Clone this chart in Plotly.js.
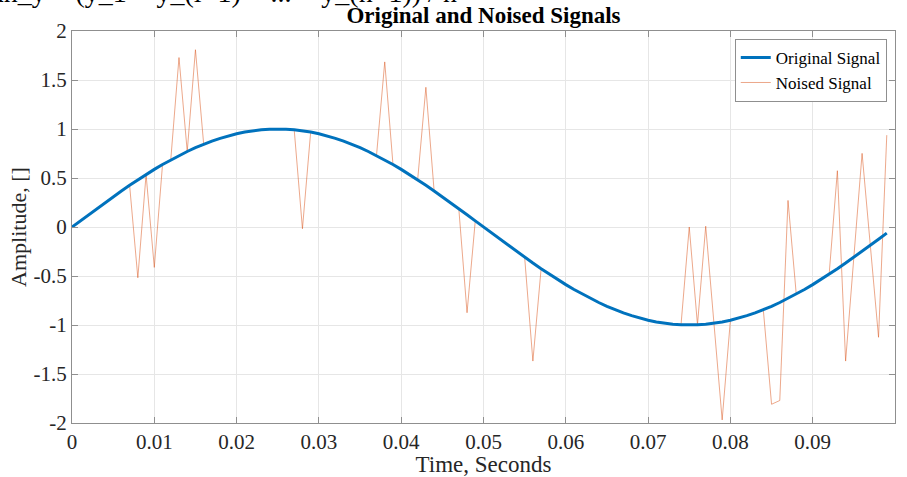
<!DOCTYPE html>
<html><head><meta charset="utf-8">
<script src="https://cdn.plot.ly/plotly-3.0.1.min.js"></script>
<style>html,body{margin:0;padding:0;background:#fff}#chart{width:907px;height:477px}</style>
</head><body><div id="chart"></div>
<script>
const timeSeconds = [
  0.000,0.001,0.002,0.003,0.004,0.005,0.006,0.007,0.008,0.009,
  0.010,0.011,0.012,0.013,0.014,0.015,0.016,0.017,0.018,0.019,
  0.020,0.021,0.022,0.023,0.024,0.025,0.026,0.027,0.028,0.029,
  0.030,0.031,0.032,0.033,0.034,0.035,0.036,0.037,0.038,0.039,
  0.040,0.041,0.042,0.043,0.044,0.045,0.046,0.047,0.048,0.049,
  0.050,0.051,0.052,0.053,0.054,0.055,0.056,0.057,0.058,0.059,
  0.060,0.061,0.062,0.063,0.064,0.065,0.066,0.067,0.068,0.069,
  0.070,0.071,0.072,0.073,0.074,0.075,0.076,0.077,0.078,0.079,
  0.080,0.081,0.082,0.083,0.084,0.085,0.086,0.087,0.088,0.089,
  0.090,0.091,0.092,0.093,0.094,0.095,0.096,0.097,0.098,0.099
];
const originalSignal = [
  0.0000,0.0628,0.1253,0.1874,0.2487,0.3090,0.3681,0.4258,0.4818,0.5358,
  0.5878,0.6374,0.6845,0.7290,0.7705,0.8090,0.8443,0.8763,0.9048,0.9298,
  0.9511,0.9686,0.9823,0.9921,0.9980,1.0000,0.9980,0.9921,0.9823,0.9686,
  0.9511,0.9298,0.9048,0.8763,0.8443,0.8090,0.7705,0.7290,0.6845,0.6374,
  0.5878,0.5358,0.4818,0.4258,0.3681,0.3090,0.2487,0.1874,0.1253,0.0628,
  0.0000,-0.0628,-0.1253,-0.1874,-0.2487,-0.3090,-0.3681,-0.4258,-0.4818,-0.5358,
  -0.5878,-0.6374,-0.6845,-0.7290,-0.7705,-0.8090,-0.8443,-0.8763,-0.9048,-0.9298,
  -0.9511,-0.9686,-0.9823,-0.9921,-0.9980,-1.0000,-0.9980,-0.9921,-0.9823,-0.9686,
  -0.9511,-0.9298,-0.9048,-0.8763,-0.8443,-0.8090,-0.7705,-0.7290,-0.6845,-0.6374,
  -0.5878,-0.5358,-0.4818,-0.4258,-0.3681,-0.3090,-0.2487,-0.1874,-0.1253,-0.0628
];
const noisedSignal = [
  0.0000,0.0628,0.1253,0.1874,0.2487,0.3090,0.3681,0.4258,-0.5182,0.5358,
  -0.4122,0.6374,0.6845,1.7290,0.7705,1.8090,0.8443,0.8763,0.9048,0.9298,
  0.9511,0.9686,0.9823,0.9921,0.9980,1.0000,0.9980,0.9921,-0.0177,0.9686,
  0.9511,0.9298,0.9048,0.8763,0.8443,0.8090,0.7705,0.7290,1.6845,0.6374,
  0.5878,0.5358,0.4818,1.4258,0.3681,0.3090,0.2487,0.1874,-0.8747,0.0628,
  0.0000,-0.0628,-0.1253,-0.1874,-0.2487,-0.3090,-1.3681,-0.4258,-0.4818,-0.5358,
  -0.5878,-0.6374,-0.6845,-0.7290,-0.7705,-0.8090,-0.8443,-0.8763,-0.9048,-0.9298,
  -0.9511,-0.9686,-0.9823,-0.9921,-0.9980,0.0000,-0.9980,0.0079,-0.9823,-1.9686,
  -0.9511,-0.9298,-0.9048,-0.8763,-0.8443,-1.8090,-1.7705,0.2710,-0.6845,-0.6374,
  -0.5878,-0.5358,-0.4818,0.5742,-1.3681,-0.3090,0.7513,-0.1874,-1.1253,0.9372
];
const xTickVals = [0,0.01,0.02,0.03,0.04,0.05,0.06,0.07,0.08,0.09,0.1];
const xTickText = ['0','0.01','0.02','0.03','0.04','0.05','0.06','0.07','0.08','0.09','0.1'];
const yTickVals = [-2,-1.5,-1,-0.5,0,0.5,1,1.5,2];
const yTickText = ['-2','-1.5','-1','-0.5','0','0.5','1','1.5','2'];
const seriesNames = ['Original Signal','Noised Signal'];

const FONT = 'Liberation Serif, Times New Roman, serif';
const axisCommon = {
  showline: true, mirror: 'ticks', linecolor: '#8f8f8f', linewidth: 1,
  ticks: 'inside', ticklen: 6, tickcolor: '#8f8f8f', tickwidth: 1,
  showgrid: true, gridcolor: '#e6e6e6', gridwidth: 1, zeroline: false,
  tickfont: {family: FONT, size: 21, color: '#262626'}
};

const data = [
  {x: timeSeconds, y: noisedSignal, type: 'scatter', mode: 'lines', name: seriesNames[1],
   legendrank: 2, line: {color: '#D95319', width: 0.6}, opacity: 0.85},
  {x: timeSeconds, y: originalSignal, type: 'scatter', mode: 'lines', name: seriesNames[0],
   legendrank: 1, line: {color: '#0072BD', width: 3}}
];

const layout = {
  width: 907, height: 477,
  margin: {l: 72, r: 12, t: 31, b: 54},
  paper_bgcolor: '#fff', plot_bgcolor: '#fff',
  font: {family: FONT, color: '#262626'},
  title: {text: '<b>Original and Noised Signals</b>', font: {family: FONT, size: 23, color: '#000'},
          x: 0.5, xref: 'paper', xanchor: 'center', y: 1, yref: 'container', yanchor: 'top', pad: {t: 7}},
  xaxis: Object.assign({}, axisCommon, {range: [0, 0.1], tickvals: xTickVals, ticktext: xTickText,
    title: {text: 'Time, Seconds', font: {family: FONT, size: 23, color: '#262626'}, standoff: 2}}),
  yaxis: Object.assign({}, axisCommon, {range: [-2, 2], tickvals: yTickVals, ticktext: yTickText,
    title: {text: 'Amplitude, []', font: {family: FONT, size: 22, color: '#262626'}, standoff: 0}}),
  legend: {x: 0.990, xanchor: 'right', y: 0.98, yanchor: 'top', bgcolor: '#fff',
    bordercolor: '#8f8f8f', borderwidth: 1, font: {family: FONT, size: 17, color: '#000'},
    itemwidth: 30, tracegroupgap: 0, traceorder: 'normal'},
  showlegend: true,
  annotations: [{
    text: 'mean_y = (y_1 + y_(i+1) + ... + y_(n+1)) / n', showarrow: false,
    xref: 'paper', yref: 'paper', x: -0.142, xanchor: 'left', y: 1.054, yanchor: 'bottom',
    font: {family: FONT, size: 28, color: '#000'}
  }]
};

Plotly.newPlot('chart', data, layout, {displayModeBar: false, staticPlot: true});
</script>
</body></html>
